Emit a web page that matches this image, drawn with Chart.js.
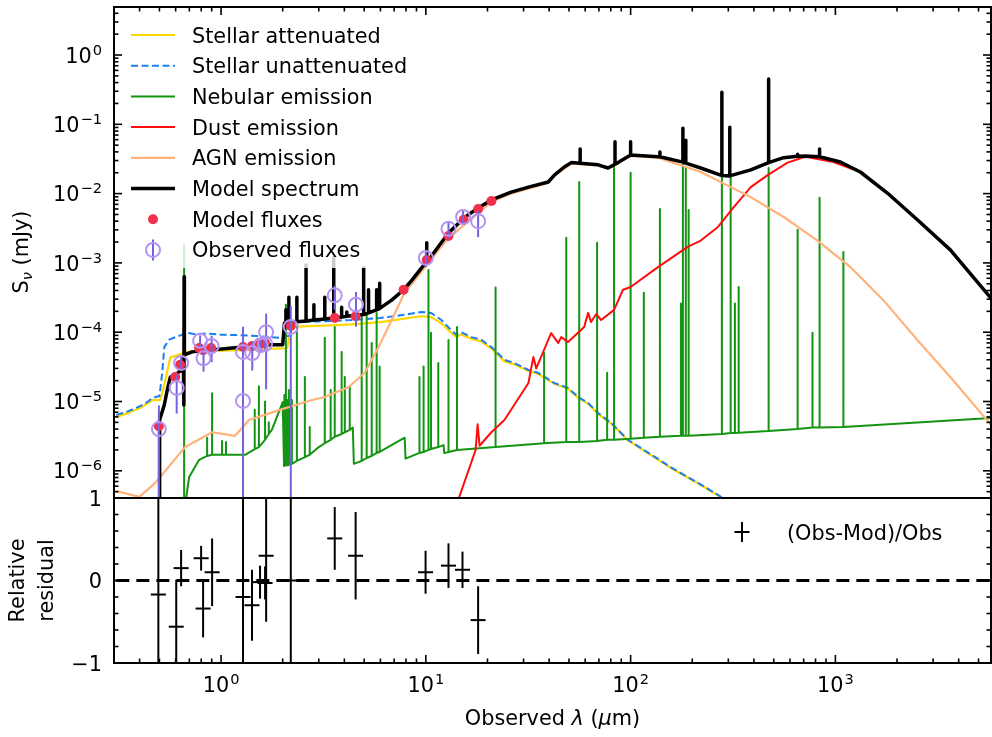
<!DOCTYPE html>
<html>
<head>
<meta charset="utf-8">
<script src="https://cdn.jsdelivr.net/npm/chart.js@4.4.1/dist/chart.umd.min.js"></script>
<style>
  body { margin: 0; background: #fff; }
  #wrap { position: relative; width: 992px; height: 737px; }
  canvas { position: absolute; left: 0; }
</style>
</head>
<body>
<div id="wrap">
  <canvas id="sed" width="992" height="500" style="top:0"></canvas>
  <canvas id="res" width="992" height="257" style="top:480px"></canvas>
</div>
<script>
var FONT = '"DejaVu Sans", sans-serif';

// axis limits (wavelength in micron, flux in mJy)
var xMin = 0.308, xMax = 5753;
var yMin = 4.05e-7, yMax = 4.93;
var resMin = -1, resMax = 1;

// tick labels
var xTickVals = [1, 10, 100, 1000];
var xTickExp = ['0', '1', '2', '3'];
var yTickVals = [1e-6, 1e-5, 1e-4, 1e-3, 1e-2, 1e-1, 1];
var yTickExp = ['\u22126', '\u22125', '\u22124', '\u22123', '\u22122', '\u22121', '0'];
var resTickVals = [-1, 0, 1];
var resTickLabels = ['\u22121', '0', '1'];

// spectra: [wavelength, flux]
var stellarAtt = [[0.308,6.0e-6],[0.35,6.8e-6],[0.40,8.0e-6],[0.44,9.5e-6],[0.461,1.05e-5],[0.505,1.05e-5],[0.534,2.0e-5],
  [0.565,4.3e-5],[0.683,5.2e-5],[1.0,5.4e-5],[1.265,5.5e-5],[2.10,5.9e-5],[2.20,1.1e-4],[2.27,1.2e-4],[3.0,1.23e-4],
  [4.35,1.3e-4],[6.0,1.4e-4],[8.0,1.58e-4],[9.51,1.7e-4],[10.6,1.65e-4],[11.9,1.35e-4],[13.3,9.8e-5],[14.1,8.5e-5],
  [14.9,9.3e-5],[16.7,8.0e-5],[18.6,7.4e-5],[20.9,5.8e-5],[24.2,3.8e-5],[27.0,3.45e-5],[31.7,2.75e-5],[35.3,2.5e-5],
  [42.4,1.8e-5],[49.5,1.53e-5],[55.5,1.13e-5],[62,9.3e-6],[69.4,6.6e-6],[80.4,4.8e-6],[97,2.75e-6],[116,1.95e-6],
  [157,1.1e-6],[213,6.6e-7],[267,4.4e-7],[291,3.7e-7]];

var stellarUnatt = [[0.308,6.4e-6],[0.35,7.2e-6],[0.40,8.5e-6],[0.44,1.0e-5],[0.461,1.12e-5],[0.50,1.2e-5],[0.516,2.6e-5],
  [0.528,6.1e-5],[0.558,7.8e-5],[0.60,8.5e-5],[0.683,9.8e-5],[0.75,9.3e-5],[0.85,9.6e-5],[1.0,9.2e-5],[1.224,9.1e-5],
  [1.5,8.8e-5],[1.916,8.3e-5],[2.17,8.9e-5],[2.22,1.3e-4],[2.27,1.4e-4],[3.0,1.43e-4],[4.35,1.5e-4],[6.0,1.6e-4],
  [8.0,1.8e-4],[9.51,1.96e-4],[10.6,1.9e-4],[11.9,1.5e-4],[13.3,1.07e-4],[14.1,9.1e-5],[14.9,1.0e-4],[16.7,8.5e-5],
  [18.6,7.8e-5],[20.9,6.1e-5],[24.2,4.0e-5],[27.0,3.6e-5],[31.7,2.85e-5],[35.3,2.6e-5],[42.4,1.85e-5],[49.5,1.57e-5],
  [55.5,1.16e-5],[62,9.5e-6],[69.4,6.8e-6],[80.4,4.9e-6],[97,2.8e-6],[116,2.0e-6],[157,1.13e-6],[213,6.7e-7],
  [267,4.5e-7],[291,3.8e-7]];

var nebular = [[0.655,3.2e-7],[0.660,3.2e-7],[0.660,1.8e-3],[0.660,3.2e-7],[0.668,3.2e-7],[0.698,8.1e-7],[0.781,1.44e-6],
  [0.855,1.64e-6],[0.855,3.0e-6],[0.855,1.64e-6],[0.904,1.7e-6],[0.904,1.32e-5],[0.904,1.7e-6],
  [1.011,1.7e-6],[1.011,2.7e-6],[1.011,1.7e-6],[1.057,1.7e-6],[1.057,2.6e-6],[1.057,1.7e-6],[1.31,1.7e-6],
  [1.46,2.06e-6],[1.46,7.6e-6],[1.46,2.06e-6],[1.53,2.2e-6],[1.53,1.66e-5],[1.53,2.2e-6],
  [1.64,2.8e-6],[1.64,1.0e-5],[1.64,2.8e-6],[1.71,3.4e-6],[1.71,5.0e-6],[1.71,3.4e-6],
  [1.77,3.9e-6],[2.00,9.8e-6],[2.03,1.17e-6],
  [2.038,1.2e-6],[2.038,1.24e-5],[2.038,1.2e-6],[2.073,1.2e-6],[2.073,2.5e-4],[2.073,1.2e-6],
  [2.108,1.2e-6],[2.108,1.05e-5],[2.108,1.2e-6],[2.144,1.22e-6],[2.144,1.47e-5],[2.144,1.22e-6],
  [2.181,1.24e-6],[2.181,9.0e-6],[2.181,1.24e-6],[2.218,1.26e-6],[2.218,1.05e-5],[2.218,1.26e-6],
  [2.345,1.39e-6],[2.345,1.19e-4],[2.345,1.39e-6],[2.565,1.58e-6],[2.565,2.25e-5],[2.565,1.58e-6],
  [2.71,1.7e-6],[2.71,4.3e-6],[2.71,1.7e-6],[3.0,2.2e-6],
  [3.21,2.5e-6],[3.21,8.3e-5],[3.21,2.5e-6],[3.43,2.8e-6],[3.43,1.47e-5],[3.43,2.8e-6],
  [3.59,3.1e-6],[3.59,1.19e-4],[3.59,3.1e-6],[3.88,3.4e-6],[3.88,5.2e-5],[3.88,3.4e-6],
  [4.02,3.6e-6],[4.02,2.25e-5],[4.02,3.6e-6],[4.25,3.9e-6],[4.25,1.62e-5],[4.25,3.9e-6],
  [4.40,4.2e-6],[4.45,1.26e-6],
  [4.86,1.39e-6],[4.86,1.66e-4],[4.86,1.39e-6],[5.14,1.53e-6],[5.14,1.78e-4],[5.14,1.53e-6],
  [5.44,1.64e-6],[5.44,7.0e-5],[5.44,1.64e-6],[5.75,1.81e-6],[5.75,1.9e-4],[5.75,1.81e-6],
  [5.95,1.87e-6],[5.95,3.2e-5],[5.95,1.87e-6],[7.88,3.0e-6],[7.96,1.5e-6],
  [9.31,1.81e-6],[9.31,2.25e-5],[9.31,1.81e-6],[9.75,1.87e-6],[9.75,3.2e-5],[9.75,1.87e-6],
  [10.3,2.0e-6],[10.3,7.9e-4],[10.3,2.0e-6],[10.6,2.06e-6],[10.6,9.8e-5],[10.6,2.06e-6],
  [11.5,2.2e-6],[11.5,3.6e-5],[11.5,2.2e-6],[12.2,2.35e-6],[12.3,1.8e-6],
  [12.9,1.87e-6],[12.9,7.7e-5],[12.9,1.87e-6],[14.2,2.0e-6],[14.2,1.19e-4],[14.2,2.0e-6],
  [21.9,2.2e-6],[21.9,4.4e-4],[21.9,2.2e-6],[37.8,2.5e-6],[37.8,5.0e-5],[37.8,2.5e-6],
  [48.5,2.6e-6],[48.5,2.3e-3],[48.5,2.6e-6],[56.1,2.6e-6],[56.1,1.47e-2],[56.1,2.6e-6],
  [68.6,2.7e-6],[68.6,1.95e-3],[68.6,2.7e-6],[76.8,2.8e-6],[76.8,2.6e-5],[76.8,2.8e-6],
  [83.0,2.8e-6],[83.0,2.6e-2],[83.0,2.8e-6],[100,2.9e-6],[100,2.0e-2],[100,2.9e-6],
  [116,3.0e-6],[116,3.7e-4],[116,3.0e-6],[139,3.1e-6],[139,6.0e-3],[139,3.1e-6],
  [176,3.2e-6],[176,2.6e-4],[176,3.2e-6],[180,3.2e-6],[180,2.6e-2],[180,3.2e-6],
  [186,3.2e-6],[186,2.4e-2],[186,3.2e-6],[192,3.2e-6],[192,5.8e-3],[192,3.2e-6],
  [279,3.4e-6],[279,1.85e-2],[279,3.4e-6],[308,3.5e-6],[308,1.74e-2],[308,3.5e-6],
  [323,3.5e-6],[323,2.6e-4],[323,3.5e-6],[337,3.55e-6],[337,4.5e-4],[337,3.55e-6],
  [472,3.75e-6],[472,2.34e-2],[472,3.75e-6],[654,4.0e-6],[654,3.0e-3],[654,4.0e-6],
  [773,4.2e-6],[773,9.8e-5],[773,4.2e-6],[837,4.2e-6],[837,8.7e-3],[837,4.2e-6],
  [1094,4.3e-6],[1094,1.44e-3],[1094,4.3e-6],[5750,5.8e-6]];

var dust = [[14.1,3.2e-7],[16.7,1.34e-6],[17.5,2.0e-6],[17.9,4.7e-6],[18.3,2.3e-6],[20.9,3.6e-6],[24.2,5.4e-6],
  [31.7,1.85e-5],[33.5,4.4e-5],[34.6,3.0e-5],[40.9,9.7e-5],[44.3,7.0e-5],[45.8,8.5e-5],[49.5,7.2e-5],[59.3,1.19e-4],
  [62,1.9e-4],[64.1,1.4e-4],[67.9,1.83e-4],[71.8,1.5e-4],[83,2.1e-4],[91.8,4.1e-4],[100,4.5e-4],[136,8.7e-4],
  [190,1.7e-3],[220,2.1e-3],[267,3.3e-3],[319,6.4e-3],[386,1.24e-2],[467,1.85e-2],[584,2.8e-2],[713,3.4e-2],
  [979,2.86e-2],[1324,2.05e-2],[1794,1.02e-2],[2513,4.2e-3],[3640,1.54e-3],[5750,3.1e-4]];

var agn = [[0.308,5.1e-7],[0.399,4.2e-7],[0.477,6.7e-7],[0.668,2.2e-6],[0.904,3.6e-6],[1.17,3.2e-6],[1.37,5.4e-6],
  [1.92,7.5e-6],[2.78,1.05e-5],[3.21,1.16e-5],[4.20,1.62e-5],[5.03,2.6e-5],[5.88,6.1e-5],[6.81,1.5e-4],[7.88,3.7e-4],
  [9.86,8.5e-4],[12.3,1.95e-3],[14.4,3.0e-3],[20.9,7.6e-3],[26.1,1.0e-2],[39.6,1.42e-2],[42.4,1.8e-2],[51.3,2.7e-2],
  [69.4,2.55e-2],[77.6,2.3e-2],[86.8,2.75e-2],[100,3.5e-2],[136,3.3e-2],[180,2.5e-2],[220,2.05e-2],[386,8.9e-3],
  [559,4.6e-3],[818,2.1e-3],[1184,8.7e-4],[1715,2.9e-4],[2513,7.7e-5],[3640,2.26e-5],[5750,4.6e-6]];

var modelSpec = [[0.499,3.2e-7],[0.501,5.4e-6],[0.528,8.9e-6],[0.546,1.47e-5],[0.565,2.25e-5],[0.60,2.4e-5],
  [0.624,2.7e-5],[0.655,2.85e-5],[0.658,8.9e-6],[0.660,6.3e-4],[0.662,4.7e-5],
  [0.722,5.2e-5],[1.131,5.9e-5],[1.77,6.6e-5],[2.00,6.6e-5],[2.04,1.35e-4],
  [2.073,1.38e-4],[2.073,2.1e-4],[2.073,1.38e-4],[2.144,1.4e-4],[2.144,3.2e-4],[2.144,1.4e-4],
  [2.345,1.42e-4],[2.345,3.2e-4],[2.345,1.42e-4],[2.6,1.45e-4],[2.6,9.3e-4],[2.6,1.45e-4],
  [2.84,1.5e-4],[2.84,2.5e-4],[2.84,1.5e-4],[3.21,1.55e-4],[3.21,3.2e-4],[3.21,1.55e-4],
  [3.55,1.6e-4],[3.55,1.2e-3],[3.55,1.6e-4],[3.88,1.65e-4],[3.88,2.3e-4],[3.88,1.65e-4],
  [4.11,1.7e-4],[4.11,1.96e-4],[4.11,1.7e-4],[4.97,1.8e-4],[4.97,8.5e-4],[4.97,1.8e-4],
  [5.25,1.9e-4],[5.25,4.1e-4],[5.25,1.9e-4],[5.75,2.1e-4],[5.75,4.1e-4],[5.75,2.1e-4],
  [5.95,2.2e-4],[5.95,5.1e-4],[5.95,2.2e-4],[6.08,2.3e-4],[6.81,2.9e-4],[7.79,4.1e-4],[8.53,5.6e-4],
  [10.1,1.05e-3],[10.1,1.95e-3],[10.1,1.05e-3],[10.3,1.1e-3],[12.9,2.7e-3],[15.4,4.5e-3],[18.0,6.2e-3],
  [20.9,8.1e-3],[26.1,1.05e-2],[31.7,1.24e-2],[39.6,1.47e-2],[42.4,1.85e-2],[47.4,2.42e-2],[51.3,2.8e-2],
  [56.7,2.75e-2],[56.7,4.4e-2],[56.7,2.75e-2],[69.4,2.6e-2],[77.6,2.34e-2],
  [83.9,2.65e-2],[83.9,5.6e-2],[83.9,2.65e-2],[86.8,2.8e-2],[100,3.6e-2],[100,5.6e-2],[100,3.6e-2],
  [136,3.4e-2],[139,3.4e-2],[139,4.0e-2],[139,3.4e-2],[180,2.85e-2],[180,8.8e-2],[180,2.85e-2],
  [186,2.75e-2],[186,5.9e-2],[186,2.75e-2],[220,2.34e-2],[275,1.85e-2],
  [279,1.83e-2],[279,0.29],[279,1.83e-2],[305,1.8e-2],[305,9.1e-2],[305,1.8e-2],[386,2.2e-2],
  [472,2.8e-2],[472,0.45],[472,2.8e-2],[559,3.3e-2],[654,3.45e-2],[654,3.7e-2],[654,3.45e-2],[713,3.5e-2],
  [837,3.4e-2],[837,4.4e-2],[837,3.4e-2],[1058,2.86e-2],[1324,2.05e-2],[1794,1.02e-2],[2513,4.2e-3],
  [3640,1.54e-3],[5750,3.1e-4]];

// photometry
var modLam = [0.497, 0.597, 0.631, 0.781, 0.817, 0.894, 1.28, 1.416, 1.55, 1.64, 2.19, 3.59, 4.54, 7.79, 10.1, 12.9, 15.3, 18.0, 20.9];
var modFlux = [4.4e-6, 2.26e-5, 3.4e-5, 5.9e-5, 5.5e-5, 5.9e-5, 6.1e-5, 6.3e-5, 6.7e-5, 7.0e-5, 1.23e-4, 1.6e-4, 1.7e-4, 4.1e-4, 1.1e-3, 2.45e-3, 4.2e-3, 6.0e-3, 7.8e-3];

var obsLam = [0.497, 0.607, 0.638, 0.790, 0.821, 0.899, 1.28, 1.28, 1.42, 1.56, 1.64, 1.66, 2.19, 3.59, 4.56, 10.0, 12.9, 15.2, 18.0];
var obsFlux = [4.0e-6, 1.57e-5, 3.6e-5, 7.5e-5, 4.2e-5, 6.3e-5, 5.2e-5, 1.02e-5, 5.0e-5, 6.5e-5, 6.8e-5, 1.0e-4, 1.19e-4, 3.4e-4, 2.5e-4, 1.18e-3, 3.1e-3, 4.6e-3, 4.0e-3];
var obsErr = [4.8e-6, 9e-6, 7.9e-6, 1.5e-5, 1.5e-5, 2.6e-5, 1.3e-5, 1.1e-4, 2.2e-5, 1.3e-5, 1.4e-5, 8.5e-5, 1.2e-4, 1.3e-4, 1.3e-4, 3.1e-4, 8.4e-4, 1.0e-3, 1.65e-3];

var resLam = [0.494, 0.604, 0.638, 0.799, 0.817, 0.904, 1.28, 1.28, 1.416, 1.55, 1.64, 1.66, 2.19, 3.59, 4.54, 9.97, 12.9, 15.1, 18.0];
var resVal = [-0.17, -0.56, 0.15, 0.27, -0.34, 0.10, -0.20, -4.4, -0.30, -0.02, -0.03, 0.30, 0.0, 0.51, 0.30, 0.10, 0.18, 0.13, -0.48];
var resErr = [2.0, 0.57, 0.22, 0.15, 0.35, 0.41, 0.25, 11, 0.43, 0.2, 0.2, 0.8, 2.0, 0.38, 0.53, 0.26, 0.27, 0.22, 0.41];

function pairs(arr) { return arr.map(function (p) { return { x: p[0], y: p[1] }; }); }
function zip(xs, ys) { return xs.map(function (x, i) { return { x: x, y: ys[i] }; }); }

function lineSet(label, data, color, width, order, dash) {
  return {
    label: label, data: pairs(data), showLine: true, borderColor: color, borderWidth: width,
    borderDash: dash || [], pointRadius: 0, fill: false, tension: 0, order: order, clip: 0,
    borderJoinStyle: 'round'
  };
}

var sedSets = [
  lineSet('Stellar attenuated', stellarAtt, '#ffd700', 2.2, 8),
  lineSet('Stellar unattenuated', stellarUnatt, '#1b7ef2', 2, 7, [7, 3.5]),
  lineSet('Nebular emission', nebular, '#139413', 2, 6),
  lineSet('Dust emission', dust, '#ff0d0d', 2, 5),
  lineSet('AGN emission', agn, '#ffb27a', 2.2, 4),
  lineSet('Model spectrum', modelSpec, '#000000', 3.5, 3),
  { label: 'Model fluxes', data: zip(modLam, modFlux), showLine: false, pointRadius: 5, pointBorderWidth: 0,
    pointBackgroundColor: '#f2304c', backgroundColor: '#f2304c', order: 2, clip: 0 },
  { label: 'Observed fluxes', data: zip(obsLam, obsFlux), showLine: false, pointRadius: 7, pointBorderWidth: 2,
    pointBorderColor: '#b593f2', borderColor: '#b593f2', pointBackgroundColor: 'rgba(0,0,0,0)',
    errors: obsErr, errColor: '#7463dc', errWidth: 2, order: 1, clip: 0 }
];

var resSets = [
  { label: '(Obs-Mod)/Obs', data: zip(resLam, resVal), showLine: false, pointStyle: 'line', pointRadius: 7.5,
    pointBorderWidth: 2, pointBorderColor: '#000', borderColor: '#000', errors: resErr, errColor: '#000',
    errWidth: 2, order: 1, clip: 0 },
  { label: 'zero', data: [{ x: xMin, y: 0 }, { x: xMax, y: 0 }], showLine: true, borderColor: '#000',
    borderWidth: 3, borderDash: [13, 7], pointRadius: 0, order: 2, clip: 0 }
];

// error bars drawn under the markers
var errorBars = {
  id: 'errorBars',
  beforeDatasetDraw: function (chart, args) {
    var ds = chart.data.datasets[args.index];
    if (!ds.errors) return;
    var ctx = chart.ctx, a = chart.chartArea, xs = chart.scales.x, ys = chart.scales.y;
    var floor = ys.type === 'logarithmic' ? ys.min * 0.01 : -1e9;
    ctx.save();
    ctx.beginPath();
    ctx.rect(a.left, a.top, a.right - a.left, a.bottom - a.top);
    ctx.clip();
    ctx.strokeStyle = ds.errColor;
    ctx.lineWidth = ds.errWidth;
    ds.data.forEach(function (p, i) {
      var e = ds.errors[i];
      var px = xs.getPixelForValue(p.x);
      var y1 = ys.getPixelForValue(p.y + e);
      var y2 = ys.getPixelForValue(Math.max(p.y - e, floor));
      ctx.beginPath();
      ctx.moveTo(px, y1);
      ctx.lineTo(px, y2);
      ctx.stroke();
    });
    ctx.restore();
  }
};

function logTicks(min, max) {
  var major = [], minor = [];
  for (var e = Math.floor(Math.log10(min)); e <= Math.ceil(Math.log10(max)); e++) {
    for (var m = 1; m < 10; m++) {
      var v = m * Math.pow(10, e);
      if (v < min || v > max) continue;
      (m === 1 ? major : minor).push(v);
    }
  }
  return { major: major, minor: minor };
}

function tick(ctx, x1, y1, x2, y2) {
  ctx.beginPath(); ctx.moveTo(x1, y1); ctx.lineTo(x2, y2); ctx.stroke();
}

function powLabel(ctx, exp, x, baseline, align) {
  ctx.font = '20.8px ' + FONT;
  var w1 = ctx.measureText('10').width;
  ctx.font = '14.6px ' + FONT;
  var w2 = ctx.measureText(exp).width;
  var total = w1 + 1 + w2;
  var x0 = align === 'center' ? x - total / 2 : x - total;
  ctx.textAlign = 'left';
  ctx.textBaseline = 'alphabetic';
  ctx.font = '20.8px ' + FONT;
  ctx.fillText('10', x0, baseline);
  ctx.font = '14.6px ' + FONT;
  ctx.fillText(exp, x0 + w1 + 1, baseline - 8);
}

function segments(ctx, segs, cx, baseline) {
  var total = 0;
  segs.forEach(function (s) { ctx.font = s.font; s.w = ctx.measureText(s.t).width; total += s.w; });
  var x = cx - total / 2;
  ctx.textAlign = 'left';
  ctx.textBaseline = 'alphabetic';
  segs.forEach(function (s) { ctx.font = s.font; ctx.fillText(s.t, x, baseline + (s.dy || 0)); x += s.w; });
}

var N = '20.8px ' + FONT, I = 'italic 20.8px ' + FONT, SUB = 'italic 14.6px ' + FONT;

var sedDecor = {
  id: 'sedDecor',
  afterDatasetsDraw: function (chart) {
    var ctx = chart.ctx;
    ctx.save();
    ctx.fillStyle = 'rgba(255,255,255,0.8)';
    ctx.fillRect(120, 12, 296, 256);
    chart.data.datasets.forEach(function (ds, i) {
      var base = 42.5 + 30.7 * i, hy = base - 7.5;
      ctx.setLineDash([]);
      if (ds.showLine) {
        ctx.strokeStyle = ds.borderColor;
        ctx.lineWidth = ds.borderWidth;
        ctx.setLineDash(ds.borderDash);
        tick(ctx, 131, hy, 175, hy);
        ctx.setLineDash([]);
      } else if (ds.errors) {
        ctx.strokeStyle = ds.errColor; ctx.lineWidth = 2;
        tick(ctx, 153, hy - 10.5, 153, hy + 10.5);
        ctx.strokeStyle = ds.pointBorderColor;
        ctx.beginPath(); ctx.arc(153, hy, 7, 0, Math.PI * 2); ctx.stroke();
      } else {
        ctx.fillStyle = ds.pointBackgroundColor;
        ctx.beginPath(); ctx.arc(153, hy, 5, 0, Math.PI * 2); ctx.fill();
      }
      ctx.fillStyle = '#000';
      ctx.font = N; ctx.textAlign = 'left'; ctx.textBaseline = 'alphabetic';
      ctx.fillText(ds.label, 192, base);
    });
    ctx.restore();
  },
  afterDraw: function (chart) {
    var ctx = chart.ctx, a = chart.chartArea, xs = chart.scales.x, ys = chart.scales.y;
    ctx.save();
    ctx.strokeStyle = '#000';
    ctx.lineWidth = 1.6;
    var tx = logTicks(xMin, xMax), ty = logTicks(yMin, yMax);
    tx.major.forEach(function (v) { var p = xs.getPixelForValue(v); tick(ctx, p, a.top, p, a.top + 8); });
    tx.minor.forEach(function (v) { var p = xs.getPixelForValue(v); tick(ctx, p, a.top, p, a.top + 4.5); });
    ty.major.forEach(function (v) {
      var p = ys.getPixelForValue(v);
      tick(ctx, a.left, p, a.left + 8, p); tick(ctx, a.right, p, a.right - 8, p);
    });
    ty.minor.forEach(function (v) {
      var p = ys.getPixelForValue(v);
      tick(ctx, a.left, p, a.left + 4.5, p); tick(ctx, a.right, p, a.right - 4.5, p);
    });
    ctx.lineWidth = 2;
    ctx.strokeRect(a.left, a.top, a.right - a.left, a.bottom - a.top);
    ctx.fillStyle = '#000';
    yTickVals.forEach(function (v, i) {
      powLabel(ctx, yTickExp[i], 102, ys.getPixelForValue(v) + 7.6, 'right');
    });
    ctx.translate(28, 252);
    ctx.rotate(-Math.PI / 2);
    segments(ctx, [{ t: 'S', font: N }, { t: '\u03bd', font: SUB, dy: 4 }, { t: ' (mJy)', font: N }], 0, 0);
    ctx.restore();
  }
};

var resDecor = {
  id: 'resDecor',
  afterDraw: function (chart) {
    var ctx = chart.ctx, a = chart.chartArea, xs = chart.scales.x, ys = chart.scales.y;
    ctx.save();
    ctx.strokeStyle = '#000';
    ctx.lineWidth = 1.6;
    var tx = logTicks(xMin, xMax);
    tx.major.forEach(function (v) { var p = xs.getPixelForValue(v); tick(ctx, p, a.bottom, p, a.bottom - 8); });
    tx.minor.forEach(function (v) { var p = xs.getPixelForValue(v); tick(ctx, p, a.bottom, p, a.bottom - 4.5); });
    for (var k = -4; k <= 4; k++) {
      var v = k / 5, p = ys.getPixelForValue(v), len = (k === 0) ? 8 : 4.5;
      tick(ctx, a.left, p, a.left + len, p); tick(ctx, a.right, p, a.right - len, p);
    }
    resTickVals.forEach(function (v) {
      var p = ys.getPixelForValue(v);
      tick(ctx, a.left, p, a.left + 8, p); tick(ctx, a.right, p, a.right - 8, p);
    });
    ctx.lineWidth = 2;
    ctx.strokeRect(a.left, a.top, a.right - a.left, a.bottom - a.top);

    ctx.fillStyle = '#000';
    ctx.font = N; ctx.textAlign = 'right'; ctx.textBaseline = 'alphabetic';
    resTickVals.forEach(function (v, i) { ctx.fillText(resTickLabels[i], 102, ys.getPixelForValue(v) + 7.6); });
    xTickVals.forEach(function (v, i) { powLabel(ctx, xTickExp[i], xs.getPixelForValue(v), 212, 'center'); });

    // legend
    ctx.lineWidth = 2;
    tick(ctx, 734.5, 52, 749.5, 52);
    tick(ctx, 742, 42, 742, 62);
    ctx.font = N; ctx.textAlign = 'left';
    ctx.fillText(chart.data.datasets[0].label, 787, 59.5);

    segments(ctx, [{ t: 'Observed ', font: N }, { t: '\u03bb', font: I }, { t: ' (', font: N },
      { t: '\u03bc', font: I }, { t: 'm)', font: N }], 552.5, 245);

    ctx.translate(24, 100.5);
    ctx.rotate(-Math.PI / 2);
    segments(ctx, [{ t: 'Relative', font: N }], 0, 0);
    segments(ctx, [{ t: 'residual', font: N }], 0, 29);
    ctx.restore();
  }
};

function options(yScale, pad) {
  return {
    responsive: false, animation: false, devicePixelRatio: 1, events: [],
    layout: { padding: pad, autoPadding: false },
    plugins: { legend: { display: false }, tooltip: { enabled: false } },
    scales: {
      x: { type: 'logarithmic', min: xMin, max: xMax, display: false },
      y: yScale
    }
  };
}

new Chart(document.getElementById('sed'), {
  type: 'scatter',
  data: { datasets: sedSets },
  options: options({ type: 'logarithmic', min: yMin, max: yMax, display: false },
    { left: 114, right: 1, top: 7, bottom: 2 }),
  plugins: [errorBars, sedDecor]
});

new Chart(document.getElementById('res'), {
  type: 'scatter',
  data: { datasets: resSets },
  options: options({ type: 'linear', min: resMin, max: resMax, display: false },
    { left: 114, right: 1, top: 18, bottom: 74 }),
  plugins: [errorBars, resDecor]
});
</script>
</body>
</html>
